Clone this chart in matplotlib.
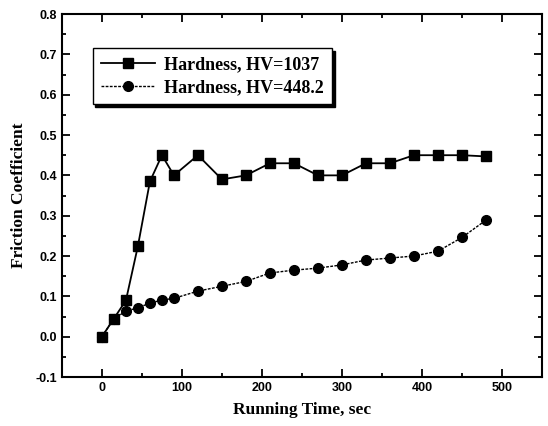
import matplotlib.pyplot as plt
from matplotlib.ticker import MultipleLocator

time_s = [0, 15, 30, 45, 60, 75, 90, 120, 150, 180, 210, 240, 270, 300, 330, 360, 390, 420, 450, 480]
hv1037 = [0.0, 0.045, 0.09, 0.225, 0.385, 0.45, 0.40, 0.45, 0.39, 0.40, 0.43, 0.43,
          0.40, 0.40, 0.43, 0.43, 0.45, 0.45, 0.45, 0.447]
hv448 = [0.0, 0.045, 0.063, 0.072, 0.083, 0.091, 0.095, 0.113, 0.125, 0.137, 0.158, 0.165,
         0.17, 0.178, 0.19, 0.195, 0.20, 0.212, 0.246, 0.289]
labels = ['Hardness, HV=1037', 'Hardness, HV=448.2']

fig = plt.figure(figsize=(5.48, 4.26), dpi=100)
ax = fig.add_axes([0.113, 0.115, 0.876, 0.852])

ax.plot(time_s, hv1037, '-s', color='black', lw=1.3, ms=7, label=labels[0])
ax.plot(time_s, hv448, color='black', ls=(0, (2, 1)), lw=1.0, marker='o', ms=7, label=labels[1])

ax.set_xlim(-50, 550)
ax.set_ylim(-0.1, 0.8)
ax.xaxis.set_major_locator(MultipleLocator(100))
ax.xaxis.set_minor_locator(MultipleLocator(50))
ax.yaxis.set_major_locator(MultipleLocator(0.1))
ax.yaxis.set_minor_locator(MultipleLocator(0.05))
ax.tick_params(which='both', direction='in', top=True, right=True, width=1.3)
ax.tick_params(which='major', length=6, labelsize=9)
ax.tick_params(which='minor', length=3)
for lab in ax.get_xticklabels() + ax.get_yticklabels():
    lab.set_fontweight('bold')
    lab.set_family('Liberation Sans')
ax.yaxis.set_major_formatter(plt.FuncFormatter(lambda v, p: f'{v:.1f}'))
for s in ax.spines.values():
    s.set_linewidth(1.5)

ax.set_xlabel('Running Time, sec', family='Liberation Serif', fontweight='bold', fontsize=12.5, labelpad=6)
ax.set_ylabel('Friction Coefficient', family='Liberation Serif', fontweight='bold', fontsize=12.5, labelpad=6)

leg = ax.legend(loc='upper left', bbox_to_anchor=(0.045, 0.93), fancybox=False,
                shadow={'color': 'black', 'alpha': 1},
                prop={'family': 'Liberation Serif', 'weight': 'bold', 'size': 13},
                handlelength=3.0, handletextpad=0.5, borderpad=0.45, labelspacing=0.3,
                edgecolor='black', framealpha=1)
leg.get_frame().set_linewidth(1.0)

fig.savefig('out.png', dpi=100)
